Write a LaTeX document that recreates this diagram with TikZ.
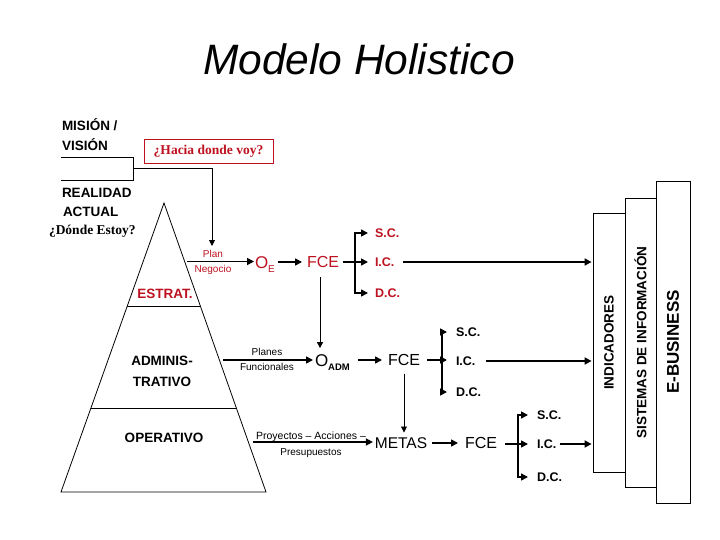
\documentclass[tikz,border=0pt]{standalone}
\usepackage{fontspec}
\setmainfont{Liberation Sans}
\newfontfamily\serifrm{Liberation Serif}
\usetikzlibrary{arrows.meta}
\definecolor{dred}{RGB}{190,18,32}
\newcommand{\fsz}[1]{\fontsize{#1}{#1}\selectfont}
\begin{document}
\begin{tikzpicture}[x=1pt,y=-1pt,
  txt/.style={inner sep=0pt,outer sep=0pt},
  lab/.style={txt,font=\bfseries\fsz{13.5}},
  sml/.style={txt,font=\fsz{10}},
  cc/.style={txt,font=\bfseries\fsz{12.5}},
  big/.style={txt,font=\fsz{16}},
  ln/.style={line width=0.8pt},
  tl/.style={line width=1.6pt},
  arr/.style={line width=1.6pt,-{Triangle[length=7pt,width=7pt]}},
  tarr/.style={line width=0.9pt,-{Triangle[length=6pt,width=6pt]}},
  box/.style={draw,line width=0.8pt,inner sep=0pt}]
\fill[white] (0,0) rectangle (720,540);
\useasboundingbox (0,0) rectangle (720,540);

% title
\node[txt,anchor=base] (title) at (359,75) {\fsz{42.5}\itshape Modelo Holistico};

% left texts
\node[lab,anchor=base west] (mis1) at (62,131) {MISIÓN /};
\node[lab,anchor=base west] (mis2) at (62,151) {VISIÓN};
\node[draw=dred,line width=0.8pt,inner sep=0pt,minimum width=129pt,minimum height=24pt,text=dred]
  (hacia) at (208.5,151) {\serifrm\bfseries\fsz{13.5}¿Hacia donde voy?};
\node[lab,anchor=base west] (real1) at (62,197) {REALIDAD};
\node[lab,anchor=base west] (real2) at (63,217) {ACTUAL};
\node[txt,anchor=base west] (donde) at (49,235) {\serifrm\bfseries\fsz{13.5}¿Dónde Estoy?};

% bracket
\coordinate (b1) at (61,157);
\coordinate (b2) at (133,157);
\coordinate (b3) at (133,180);
\coordinate (b4) at (61,180);
\coordinate (b5) at (133,168.5);
\coordinate (pv) at (212,246);
\draw[ln] (b1) -- (b2) -- (b3) -- (b4);
\draw[tarr] (b5) -| (pv);

% pyramid
\coordinate (ap) at (164,203);
\coordinate (bl) at (61,492);
\coordinate (brr) at (266,492);
\draw[ln] (ap) -- (bl) -- (brr) -- cycle;
\draw[ln] (127.3,306) -- (200.4,306);
\draw[ln] (90.9,408) -- (236.4,408);
\node[lab,text=dred] (estrat) at (165,294) {ESTRAT.};
\node[lab] (adm1) at (162,361) {ADMINIS-};
\node[lab] (adm2) at (162,382) {TRATIVO};
\node[lab] (oper) at (164,438) {OPERATIVO};

% row 1
\node[sml,text=dred,anchor=base] (plan) at (213,257.5) {Plan};
\node[sml,text=dred,anchor=base] (neg) at (213,272) {Negocio};
\coordinate (pn) at (187,261.5);
\node[txt,text=dred,anchor=base west] (oe) at (255,268) {\fsz{17}O\raisebox{-4pt}{\fsz{10}E}};
\draw[arr,shorten >=1pt] (pn) -- (pn -| oe.west);
\node[big,text=dred] (fce1) at (323,262) {FCE};
\draw[arr,shorten >=5pt] (oe.east |- fce1) ++(3pt,0) -- (fce1.west);
\coordinate (br1) at (355,262);
\node[cc,text=dred,anchor=west] (sc1) at (375,233) {S.C.};
\node[cc,text=dred,anchor=west] (ic1) at (375,262) {I.C.};
\node[cc,text=dred,anchor=west] (dc1) at (375,293) {D.C.};
\draw[tl,shorten <=4pt] (fce1.east) -- (br1);
\draw[arr,shorten >=7pt] (br1) |- (sc1.west);
\draw[arr,shorten >=7pt] (br1) -- (ic1.west);
\draw[arr,shorten >=7pt] (br1) |- (dc1.west);

% right boxes
\node[box,minimum width=34pt,minimum height=322pt] (ebus) at (673,342) {\rotatebox{90}{\bfseries\fsz{17}E-BUSINESS}};
\node[box,minimum width=31pt,minimum height=289pt] (sis) at (640.5,342.5) {\rotatebox{90}{\bfseries\fsz{13.5}SISTEMAS DE INFORMACIÓN}};
\node[box,minimum width=32pt,minimum height=259pt,fill=white] (ind) at (609,342.5) {\rotatebox{90}{\bfseries\fsz{13.5}INDICADORES}};

\draw[arr,shorten <=8.5pt,shorten >=1pt] (ic1.east) -- (ic1.east -| ind.west);

% row 2
\coordinate (d1) at (320,277);
\node[txt,anchor=base west] (oadm) at (315,366) {\fsz{17}O\raisebox{-4pt}{\bfseries\fsz{9.5}ADM}};
\draw[tarr,shorten >=6pt] (d1) -- (d1 |- oadm.north);
\node[sml,anchor=base] (planes) at (267,355.5) {Planes};
\node[sml,anchor=base] (func) at (267,370) {Funcionales};
\coordinate (pf) at (223,360);
\draw[arr,shorten >=2pt] (pf) -- (pf -| oadm.west);
\node[big] (fce2) at (404,360) {FCE};
\draw[arr,shorten <=8pt,shorten >=6pt] (oadm.east |- fce2.west) -- (fce2.west);
\coordinate (br2) at (442,360);
\node[cc,anchor=west] (sc2) at (456,332) {S.C.};
\node[cc,anchor=west] (ic2) at (456,361) {I.C.};
\node[cc,anchor=west] (dc2) at (456,392) {D.C.};
\draw[tl,shorten <=7pt] (fce2.east) -- (br2);
\draw[arr,shorten >=9pt] (br2) |- (sc2.west);
\draw[arr,shorten >=9pt] (br2) -- (br2 -| ic2.west);
\draw[arr,shorten >=9pt] (br2) |- (dc2.west);
\draw[arr,shorten <=11pt,shorten >=1pt] (ic2.east) -- (ic2.east -| ind.west);

% row 3
\node[txt,font=\fsz{15.5}] (metas) at (401,443) {METAS};
\draw[tarr,shorten <=8pt,shorten >=5pt] (fce2.south) -- (fce2.south |- metas.north);
\node[sml,anchor=base] (proy) at (311,439) {\fsz{10.5}Proyectos -- Acciones --};
\node[sml,anchor=base] (pres) at (311,455) {Presupuestos};
\coordinate (pa) at (253,442);
\draw[arr,shorten >=2pt] (pa) -- (pa -| metas.west);
\node[big] (fce3) at (481,443) {FCE};
\draw[arr,shorten <=5pt,shorten >=7pt] (metas.east) -- (fce3.west);
\coordinate (br3) at (518,444);
\node[cc,anchor=west] (sc3) at (537,415) {S.C.};
\node[cc,anchor=west] (ic3) at (537,444) {I.C.};
\node[cc,anchor=west] (dc3) at (537,477) {D.C.};
\draw[tl,shorten <=8pt] (fce3.east |- br3) -- (br3);
\draw[arr,shorten >=9pt] (br3) |- (sc3.west);
\draw[arr,shorten >=9pt] (br3) -- (ic3.west);
\draw[arr,shorten >=9pt] (br3) |- (dc3.west);
\draw[arr,shorten <=4pt,shorten >=1pt] (ic3.east) -- (ic3.east -| ind.west);
\end{tikzpicture}
\end{document}
